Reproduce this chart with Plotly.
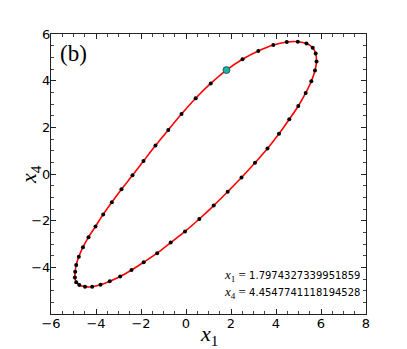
import plotly.graph_objects as go

# trajectory samples (x1, x4); first point = highlighted state
x1_vals = [1.7974327339951859, 2.511, 3.213, 3.880, 4.480, 4.969, 5.356, 5.631, 5.764, 5.800,
           5.733, 5.569, 5.320, 4.991, 4.591, 4.133, 3.622, 3.067, 2.467, 1.853,
           1.231, 0.591, -0.044, -0.680, -1.284, -1.880, -2.422, -2.924, -3.391, -3.800,
           -4.169, -4.489, -4.742, -4.880, -4.938, -4.924, -4.880, -4.764, -4.578, -4.333,
           -4.022, -3.680, -3.298, -2.867, -2.378, -1.889, -1.356, -0.787, -0.200, 0.431,
           1.098]
x4_vals = [4.4547741118194528, 4.919, 5.271, 5.528, 5.657, 5.670, 5.592, 5.412, 5.163, 4.825,
           4.438, 3.975, 3.473, 2.915, 2.345, 1.723, 1.092, 0.479, -0.152, -0.757,
           -1.353, -1.928, -2.460, -2.940, -3.395, -3.781, -4.112, -4.390, -4.596, -4.747,
           -4.832, -4.828, -4.755, -4.635, -4.433, -4.185, -3.897, -3.545, -3.138, -2.709,
           -2.245, -1.731, -1.207, -0.650, -0.058, 0.556, 1.217, 1.886, 2.568, 3.246,
           3.881]

current_x1 = x1_vals[0]
current_x4 = x4_vals[0]

x_range = [-6, 8]
y_range = [-6, 6]
x_ticks = [-6, -4, -2, 0, 2, 4, 6, 8]
y_ticks = [-4, -2, 0, 2, 4, 6]

fig = go.Figure()

# closed smooth curve
fig.add_trace(go.Scatter(
    x=x1_vals + [x1_vals[0]], y=x4_vals + [x4_vals[0]],
    mode="lines", line=dict(color="#ff0000", width=1.6, shape="spline", smoothing=1.0),
    hoverinfo="skip", showlegend=False))
# sample dots
fig.add_trace(go.Scatter(
    x=x1_vals, y=x4_vals, mode="markers",
    marker=dict(color="black", size=4), showlegend=False))
# highlighted point
fig.add_trace(go.Scatter(
    x=[current_x1], y=[current_x4], mode="markers",
    marker=dict(color="#1fb0a8", size=7, line=dict(color="#1a4a48", width=0.8)),
    showlegend=False))

axis_common = dict(
    showgrid=False, zeroline=False, showline=True, linecolor="#222222", linewidth=1,
    mirror="allticks", ticks="inside", ticklen=5, tickwidth=1, tickcolor="#222222",
    ticklabelstandoff=-3,
    tickfont=dict(family="DejaVu Sans", size=13, color="black"),
    minor=dict(ticks="inside", ticklen=3, tickwidth=0.8, tickcolor="#444444", dtick=0.5),
)

fig.update_layout(
    width=407, height=349,
    margin=dict(l=51, r=41, t=34, b=35),
    paper_bgcolor="white", plot_bgcolor="white",
    xaxis=dict(range=x_range, tickvals=x_ticks, **axis_common),
    yaxis=dict(range=y_range, tickvals=y_ticks, **axis_common),
    showlegend=False,
)

serif = "Liberation Serif"
fig.add_annotation(xref="paper", yref="paper", x=0.5, y=-0.074, xanchor="center", yanchor="middle",
                   text="<i>x</i><sub>1</sub>", showarrow=False,
                   font=dict(family=serif, size=22, color="black"))
fig.add_annotation(xref="paper", yref="paper", x=-0.067, y=0.5, xanchor="center", yanchor="middle",
                   text="<i>x</i><sub>4</sub>", showarrow=False, textangle=-90,
                   font=dict(family=serif, size=22, color="black"))
fig.add_annotation(xref="paper", yref="paper", x=0.022, y=0.93, xanchor="left", yanchor="middle",
                   text="(b)", showarrow=False,
                   font=dict(family=serif, size=23, color="black"))

lab = "<span style='font-family:Liberation Serif;font-size:13px'><i>x</i><sub>%d</sub> =</span> %s"
fig.add_annotation(xref="paper", yref="paper", x=0.987, y=0.136, xanchor="right", yanchor="middle",
                   text=lab % (1, "%.17g" % current_x1), showarrow=False,
                   font=dict(family="DejaVu Sans", size=10, color="black"))
fig.add_annotation(xref="paper", yref="paper", x=0.987, y=0.076, xanchor="right", yanchor="middle",
                   text=lab % (4, "%.17g" % current_x4), showarrow=False,
                   font=dict(family="DejaVu Sans", size=10, color="black"))

fig.write_html("out.html", config={"displayModeBar": False},
               post_script="document.body.style.margin='0';document.body.style.overflow='hidden';")
